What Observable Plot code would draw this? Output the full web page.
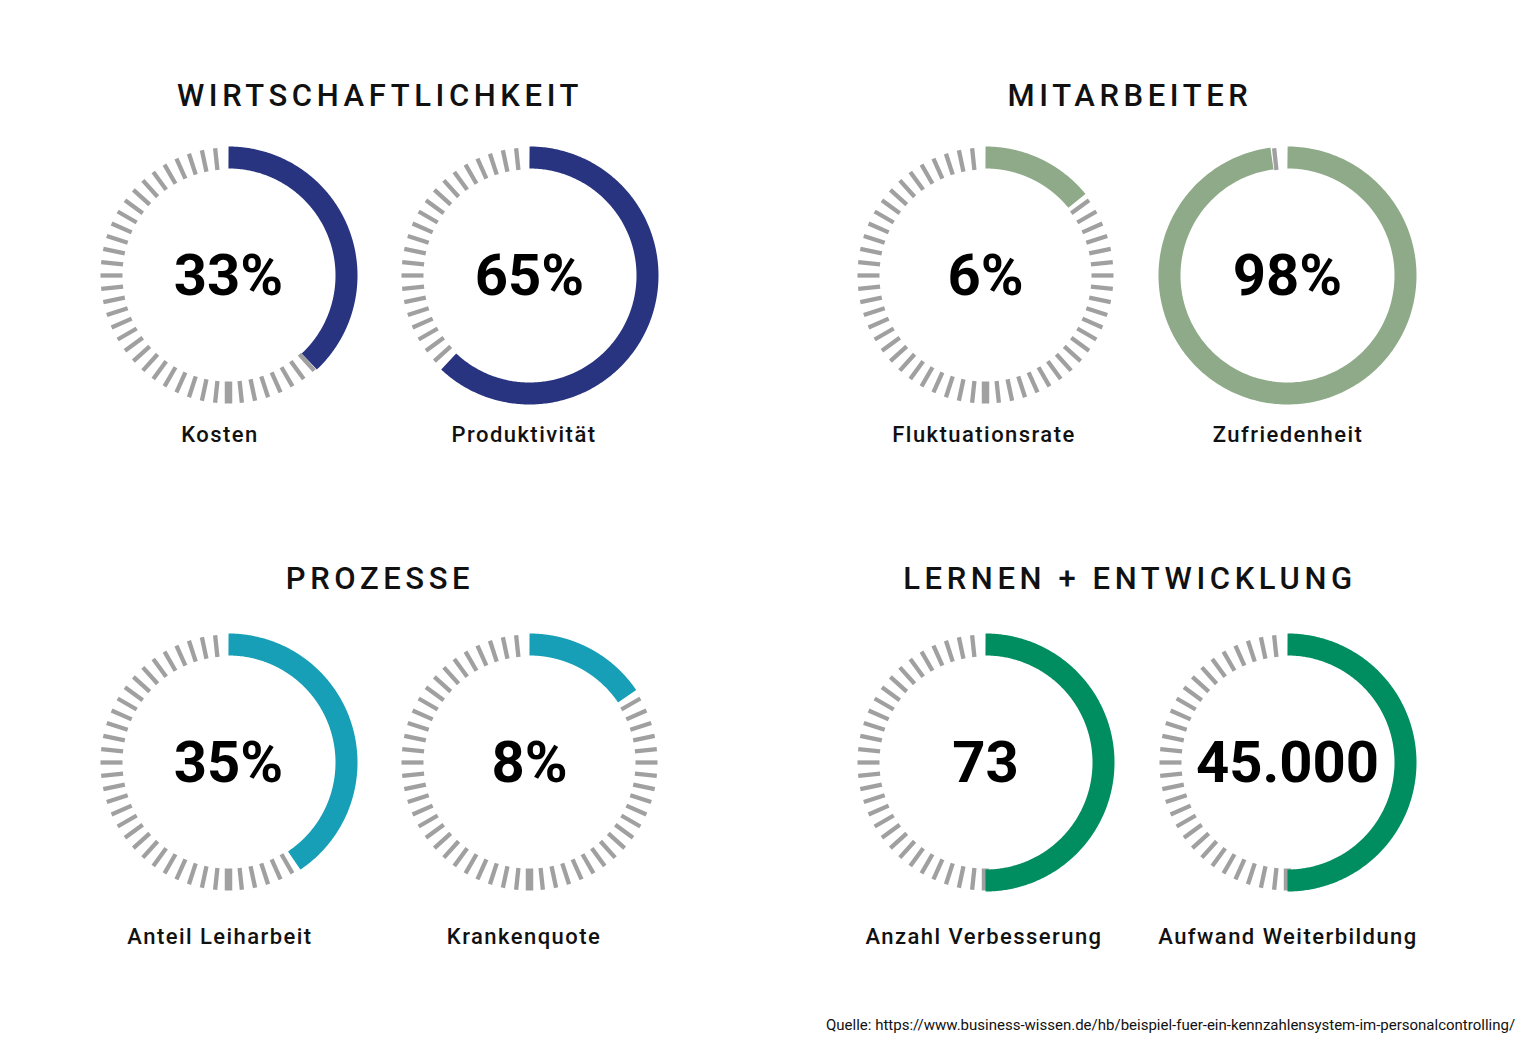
<!DOCTYPE html>
<html>
<head>
<meta charset="utf-8">
<script src="https://cdn.jsdelivr.net/npm/d3@7"></script>
<script src="https://cdn.jsdelivr.net/npm/@observablehq/plot@0.6"></script>
<style>
  html, body { margin: 0; padding: 0; background: #fff; }
  #root { position: relative; width: 1536px; height: 1057px; font-family: Roboto, sans-serif; color: #111; }
  .title { position: absolute; transform: translateX(-50%); font-size: 31px; font-weight: 500; letter-spacing: 4.6px; white-space: nowrap; line-height: 1; }
  .label { position: absolute; transform: translateX(-50%); font-size: 22px; font-weight: 500; letter-spacing: 1.45px; white-space: nowrap; line-height: 1; }
  .gauge { position: absolute; }
  .source { position: absolute; font-size: 15px; white-space: nowrap; line-height: 1; }
</style>
</head>
<body>
<div id="root"></div>
<script>
// ---- data ----
const groupTitles = ["WIRTSCHAFTLICHKEIT", "MITARBEITER", "PROZESSE", "LERNEN + ENTWICKLUNG"];
const groupColors = ["#28347f", "#8faa88", "#169fb6", "#008d5f"];
const gaugeNames = ["Kosten", "Produktivität", "Fluktuationsrate", "Zufriedenheit",
                    "Anteil Leiharbeit", "Krankenquote", "Anzahl Verbesserung", "Aufwand Weiterbildung"];
const gaugeGroup = [0, 0, 1, 1, 2, 2, 3, 3];
const valueLabels = ["33%", "65%", "6%", "98%", "35%", "8%", "73", "45.000"];
const arcShares = [0.38, 0.62, 0.141, 0.979, 0.406, 0.155, 0.5, 0.5];
const tickCount = 60;
const sourceText = "Quelle: https://www.business-wissen.de/hb/beispiel-fuer-ein-kennzahlensystem-im-personalcontrolling/";

// ---- layout ----
const colX = [228, 529, 985, 1287];
const rowY = [275, 762];
const titleX = [380, 1130, 380, 1130];
const titleY = [80, 563];
const labelX = [220, 524, 984, 1288];
const labelY = [424, 926];
const size = 290;
const R = size / 2;
const rIn = 107, rOut = 129, rMid = (rIn + rOut) / 2;

const root = document.getElementById("root");

groupTitles.forEach((t, g) => {
  const d = document.createElement("div");
  d.className = "title";
  d.textContent = t;
  d.style.left = titleX[g] + "px";
  d.style.top = titleY[Math.floor(g / 2)] + "px";
  root.appendChild(d);
});

gaugeNames.forEach((name, i) => {
  const col = i % 4, row = Math.floor(i / 4);
  const share = arcShares[i];
  const color = groupColors[gaugeGroup[i]];
  const toXY = (frac, r) => [r * Math.sin(frac * 2 * Math.PI), r * Math.cos(frac * 2 * Math.PI)];

  const ticks = d3.range(tickCount).map(k => ({k, f: k / tickCount}))
    .filter(d => d.f >= share - 0.001);
  const tickData = ticks.map(d => {
    const [x1, y1] = toXY(d.f, rIn - 1);
    const [x2, y2] = toXY(d.f, rOut - 1);
    return {x1, y1, x2, y2, big: d.k === 0 || d.k === tickCount / 2};
  });
  const arcPts = d3.range(0, share + 1e-9, share / 300).map(f => {
    const [x, y] = toXY(f, rMid);
    return {x, y};
  });

  const chart = Plot.plot({
    width: size, height: size,
    margin: 0,
    x: {domain: [-R, R], axis: null},
    y: {domain: [-R, R], axis: null},
    style: {background: "transparent", fontFamily: "Roboto, sans-serif"},
    marks: [
      Plot.link(tickData.filter(d => !d.big), {x1: "x1", y1: "y1", x2: "x2", y2: "y2", stroke: "#a0a0a0", strokeWidth: 4.3, strokeLinecap: "butt"}),
      Plot.link(tickData.filter(d => d.big), {x1: "x1", y1: "y1", x2: "x2", y2: "y2", stroke: "#a0a0a0", strokeWidth: 7.5, strokeLinecap: "butt"}),
      Plot.line(arcPts, {x: "x", y: "y", stroke: color, strokeWidth: rOut - rIn, strokeLinecap: "butt", curve: "linear"}),
      Plot.text([valueLabels[i]], {x: () => 0, y: () => 0, text: d => d, fontSize: 58, fontWeight: 700, fill: "#000", textAnchor: "middle", dy: 1})
    ]
  });
  chart.classList.add("gauge");
  chart.style.left = (colX[col] - R) + "px";
  chart.style.top = (rowY[row] - R) + "px";
  root.appendChild(chart);

  const l = document.createElement("div");
  l.className = "label";
  l.textContent = name;
  l.style.left = labelX[col] + "px";
  l.style.top = labelY[row] + "px";
  root.appendChild(l);
});

const s = document.createElement("div");
s.className = "source";
s.textContent = sourceText;
s.style.left = "826px";
s.style.top = "1018px";
root.appendChild(s);
</script>
</body>
</html>
